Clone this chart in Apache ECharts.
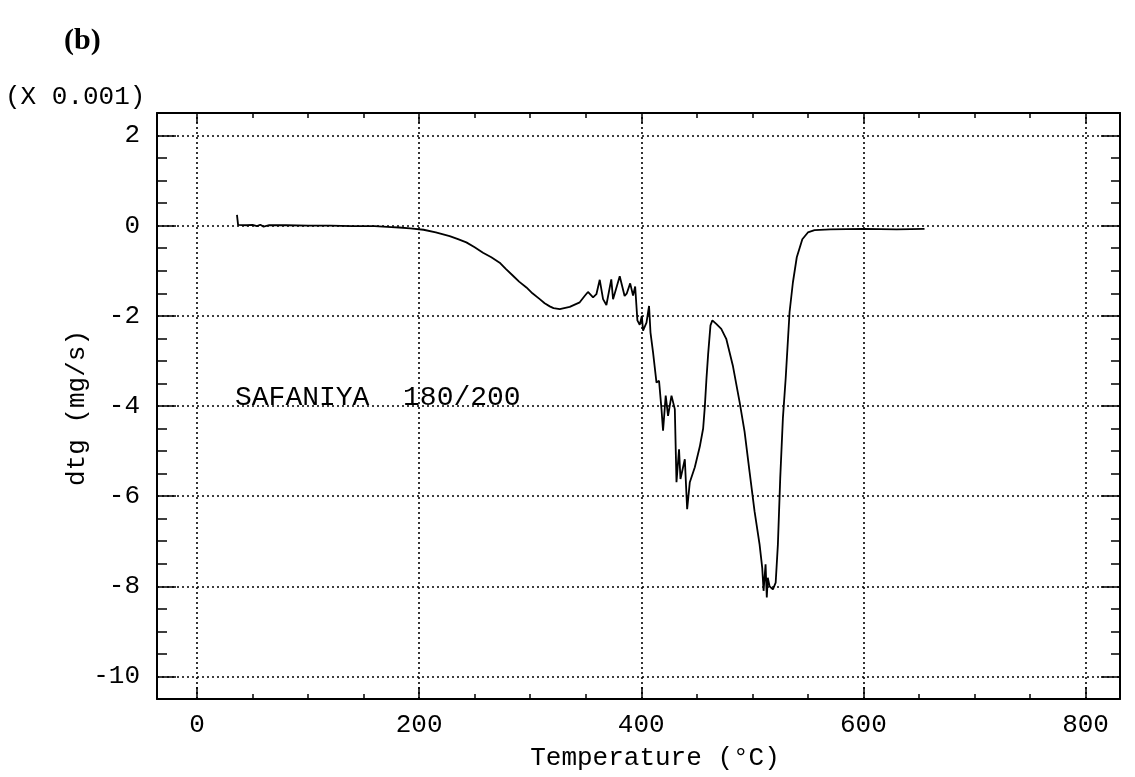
<!DOCTYPE html>
<html>
<head>
<meta charset="utf-8">
<script src="https://cdn.jsdelivr.net/npm/echarts@6/dist/echarts.min.js"></script>
<style>html,body{margin:0;padding:0;background:#fff}#c{width:1135px;height:777px}</style>
</head>
<body>
<div id="c"></div>
<script>
// ---- data ----
var temps = [36,37,45,50,54,57,60,65,80,100,120,140,160,175,182,192,204,215,227.5,235,242.5,250,257.5,265,272.5,278,284.5,290,296.6,302,308.6,313,317.6,321,326.6,335.6,344.6,349,352,356.6,359.6,362.6,365.6,368.6,373,374.6,380.6,385,387,390,392.6,394.5,396.5,398.6,400.5,401.6,404.7,407,408.3,410.6,413.7,416,418.2,419.6,422,424.1,427.2,430.2,431.7,434,435.3,439.2,441.3,443.7,448.2,452.7,455.7,457.2,458.7,460.2,462.3,464,467.5,472,476.5,482.4,488.5,493,497.5,502,506.5,508.9,510.1,511.9,513,513.9,515.5,518.5,521,523,525.1,527.5,530,533.5,536.5,540,545,550,556,570,600,630,655];
var dtg = [0.24,0.02,0.01,0.02,-0.01,0.02,-0.02,0.01,0.01,0.0,0.0,-0.01,-0.01,-0.03,-0.04,-0.06,-0.09,-0.15,-0.23,-0.3,-0.37,-0.48,-0.6,-0.7,-0.82,-0.96,-1.11,-1.24,-1.37,-1.5,-1.63,-1.72,-1.79,-1.83,-1.85,-1.8,-1.7,-1.56,-1.47,-1.59,-1.52,-1.2,-1.63,-1.76,-1.19,-1.63,-1.12,-1.56,-1.5,-1.28,-1.55,-1.35,-2.1,-2.2,-2.0,-2.33,-2.15,-1.78,-2.37,-2.81,-3.48,-3.44,-4.07,-4.55,-3.77,-4.22,-3.77,-4.07,-5.69,-4.96,-5.62,-5.18,-6.29,-5.69,-5.36,-4.9,-4.5,-4.02,-3.39,-2.85,-2.21,-2.1,-2.18,-2.29,-2.51,-3.1,-3.91,-4.57,-5.46,-6.34,-7.07,-7.59,-8.1,-7.51,-8.25,-7.81,-8.0,-8.07,-7.92,-7.07,-5.6,-4.27,-3.39,-1.92,-1.26,-0.7,-0.3,-0.15,-0.1,-0.08,-0.07,-0.08,-0.07];
var xMajor = [0,200,400,600,800];
var xMinor = [50,100,150,250,300,350,450,500,550,650,700,750];
var yMajor = [-10,-8,-6,-4,-2,0,2];
var yMinor = [-10.5,-9.5,-9,-8.5,-7.5,-7,-6.5,-5.5,-5,-4.5,-3.5,-3,-2.5,-1.5,-1,-0.5,0.5,1,1.5];
var xMin = -36, xMax = 831, yMin = -10.5, yMax = 2.5;
var annotation = 'SAFANIYA  180/200';

var MONO = '"Liberation Mono", "DejaVu Sans Mono", monospace';
var FS = 26;

function xAx(pos, vals, len, labels, line) {
  return {
    type: 'value', position: pos, min: xMin, max: xMax,
    axisLine: {show: line, onZero: false, lineStyle: {color: '#000', width: 2}},
    axisTick: {show: true, inside: true, length: len, customValues: vals, lineStyle: {color: '#000', width: 1.5}},
    axisLabel: {show: labels, customValues: vals, margin: 13, color: '#000', fontFamily: MONO, fontSize: FS},
    splitLine: {show: false}
  };
}
function yAx(pos, vals, len, labels, line) {
  return {
    type: 'value', position: pos, min: yMin, max: yMax,
    axisLine: {show: line, onZero: false, lineStyle: {color: '#000', width: 2}},
    axisTick: {show: true, inside: true, length: len, customValues: vals, lineStyle: {color: '#000', width: 1.5}},
    axisLabel: {show: labels, customValues: vals, margin: 17, color: '#000', fontFamily: MONO, fontSize: FS},
    splitLine: {show: false}
  };
}

var gridLines = [];
xMajor.forEach(function (v) { gridLines.push({xAxis: v}); });
yMajor.forEach(function (v) { gridLines.push({yAxis: v}); });

var chart = echarts.init(document.getElementById('c'), null, {renderer: 'canvas'});
chart.setOption({
  animation: false,
  backgroundColor: '#fff',
  grid: {left: 157, right: 15, top: 113, bottom: 78},
  xAxis: [
    xAx('bottom', xMajor, 12, true, true),
    xAx('bottom', xMinor, 5, false, false),
    xAx('top', xMajor, 10, false, true),
    xAx('top', xMinor, 5, false, false)
  ],
  yAxis: [
    yAx('left', yMajor, 19, true, true),
    yAx('left', yMinor, 10, false, false),
    yAx('right', yMajor, 19, false, true),
    yAx('right', yMinor, 9, false, false)
  ],
  series: [{
    type: 'line',
    xAxisIndex: 0, yAxisIndex: 0,
    showSymbol: false, symbol: 'none',
    lineStyle: {color: '#000', width: 1.8},
    data: temps.map(function (t, i) { return [t, dtg[i]]; }),
    markLine: {
      silent: true, symbol: 'none', animation: false,
      label: {show: false},
      lineStyle: {color: '#000', width: 1.6, type: [2, 3]},
      data: gridLines
    },
    z: 3
  }],
  graphic: [
    {type: 'text', left: 64, top: 26, style: {text: '(b)', font: 'bold 30px "Liberation Serif", serif', fill: '#000'}},
    {type: 'text', left: 5, top: 84, style: {text: '(X 0.001)', font: FS + 'px ' + MONO, fill: '#000'}},
    {type: 'text', x: 77, y: 408, rotation: Math.PI / 2, style: {text: 'dtg (mg/s)', font: FS + 'px ' + MONO, fill: '#000', align: 'center', verticalAlign: 'middle'}},
    {type: 'text', x: 655, y: 758, style: {text: 'Temperature (°C)', font: FS + 'px ' + MONO, fill: '#000', align: 'center', verticalAlign: 'middle'}},
    {type: 'text', left: 235, top: 384, style: {text: annotation, font: '28px ' + MONO, fill: '#000'}}
  ]
});
</script>
</body>
</html>
